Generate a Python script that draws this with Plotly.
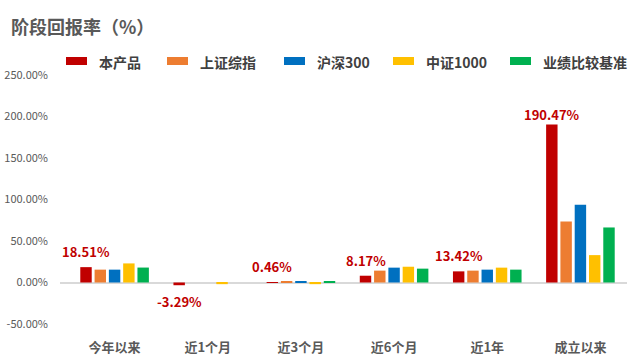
import plotly.graph_objects as go

categories = ["今年以来", "近1个月", "近3个月", "近6个月", "近1年", "成立以来"]
series_names = ["本产品", "上证综指", "沪深300", "中证1000", "业绩比较基准"]
product = [18.51, -3.29, 0.46, 8.17, 13.42, 190.47]
sse_composite = [15.5, 0.0, 1.5, 14.3, 14.3, 73.5]
csi300 = [15.5, 0.0, 1.5, 17.9, 15.5, 93.8]
csi1000 = [23.0, -2.0, -2.0, 19.0, 17.9, 33.0]
benchmark = [18.0, 0.0, 1.0, 16.7, 15.5, 66.3]
product_labels = ["18.51%", "-3.29%", "0.46%", "8.17%", "13.42%", "190.47%"]
y_ticks = [-50, 0, 50, 100, 150, 200, 250]
y_tick_text = ["-50.00%", "0.00%", "50.00%", "100.00%", "150.00%", "200.00%", "250.00%"]

series_values = [product, sse_composite, csi300, csi1000, benchmark]
colors = ["#C00000", "#ED7D31", "#0070C0", "#FFC000", "#00B050"]
label_shifts = [4, -5, 4, 4, 4, -2]

W, H = 640, 361
ML, MR, MT, MB = 60, 13, 75, 37
PW, PH = W - ML - MR, H - MT - MB
BARGAP = 0.233
FONT = "Noto Sans CJK SC, Microsoft YaHei, sans-serif"

fig = go.Figure()
for name, vals, c in zip(series_names, series_values, colors):
    fig.add_trace(go.Bar(x=categories, y=vals, name=name, marker=dict(color=c, line=dict(width=0)),
                         showlegend=False))

# data labels for product series
slot = (1 - BARGAP) / len(series_names)
red_off = -2 * slot
for i, (v, t, s) in enumerate(zip(product, product_labels, label_shifts)):
    fig.add_annotation(x=i + red_off, y=v, xref="x", yref="y", text=t, showarrow=False,
                       yanchor="bottom" if v >= 0 else "top", yshift=s,
                       font=dict(family=FONT, size=13, color="#C00000", weight="bold"))

# manual legend
legend_px = [66, 167, 284, 393, 510]
for px, name, c in zip(legend_px, series_names, colors):
    x0 = (px - ML) / PW
    x1 = (px + 21 - ML) / PW
    y0 = (H - MB - 65) / PH
    y1 = (H - MB - 57) / PH
    fig.add_shape(type="rect", xref="paper", yref="paper", x0=x0, x1=x1, y0=y0, y1=y1,
                  fillcolor=c, line=dict(width=0))
    fig.add_annotation(xref="paper", yref="paper", x=(px + 31 - ML) / PW, y=(H - MB - 61.5) / PH,
                       text=name, showarrow=False, xanchor="left", yanchor="middle",
                       font=dict(family=FONT, size=14, color="#404040", weight="bold"))

fig.update_layout(
    width=W, height=H,
    margin=dict(l=ML, r=MR, t=MT, b=MB),
    paper_bgcolor="white", plot_bgcolor="white",
    barmode="group", bargap=BARGAP, bargroupgap=0.2,
    title=dict(text="阶段回报率（%）", xref="container", yref="container", x=11 / W, xanchor="left",
               y=1 - 27.5 / H, yanchor="middle",
               font=dict(family=FONT, size=18, color="#595959", weight="bold")),
    xaxis=dict(showgrid=False, showline=False, ticks="", ticklabelstandoff=14, automargin=False,
               tickfont=dict(family=FONT, size=13, color="#595959", weight="bold")),
    yaxis=dict(range=[-50, 250], tickvals=y_ticks, ticktext=y_tick_text, automargin=False,
               showgrid=False, showline=False, ticks="", zeroline=True, zerolinecolor="#D9D9D9",
               zerolinewidth=1.5, ticklabelstandoff=11,
               tickfont=dict(family=FONT, size=11, color="#595959")),
)

fig.write_html("out.html", config={"displayModeBar": False},
               post_script="document.body.style.margin='0';")
